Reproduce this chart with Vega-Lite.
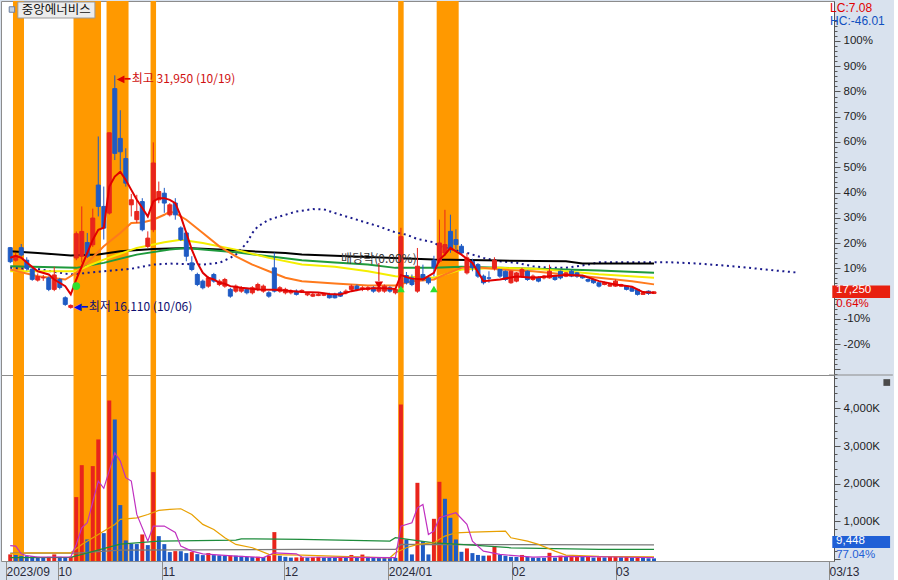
{
"$schema":"https://vega.github.io/schema/vega-lite/v6.json",
"background":"#d9e2ee",
"padding":0,
"spacing":0,
"bounds":"flush",
"config":{"view":{"fill":"#ffffff","stroke":"#8c8c8c","strokeWidth":1},"axis":{"labelFont":"Liberation Sans","labelFontSize":11.5,"labelColor":"#1e1e1e","domainColor":"#555555","tickColor":"#555555","grid":false},"text":{"font":"Liberation Sans"}},
"datasets":{
"info":[{"name":"중앙에너비스","lc":"LC:7.08","hc":"HC:-46.01","chg":"0.64%","vchg":"77.04%","last":17250,"lastvol":9448}],
"bands":[{"s":0.5,"e":2.5},{"s":11.5,"e":16.5},{"s":17.5,"e":21.5},{"s":25.5,"e":26.5},{"s":70.5,"e":71.5},{"s":77.5,"e":81.5}],
"candles":[
{"t":0,"date":"2023-09-15","open":20250,"high":20300,"low":19200,"close":19300,"volume":115000},
{"t":1,"date":"2023-09-18","open":19400,"high":19900,"low":19300,"close":19700,"volume":100000},
{"t":2,"date":"2023-09-19","open":20250,"high":20500,"low":19650,"close":19750,"volume":75000},
{"t":3,"date":"2023-09-20","open":19400,"high":19600,"low":18700,"close":18850,"volume":70000},
{"t":4,"date":"2023-09-21","open":18800,"high":18900,"low":18000,"close":18100,"volume":65000},
{"t":5,"date":"2023-09-22","open":18050,"high":18500,"low":17950,"close":18300,"volume":50000},
{"t":6,"date":"2023-09-25","open":18200,"high":18400,"low":18000,"close":18220,"volume":45000},
{"t":7,"date":"2023-09-26","open":18200,"high":18300,"low":17300,"close":17420,"volume":50000},
{"t":8,"date":"2023-09-27","open":17420,"high":18950,"low":17300,"close":18400,"volume":115000},
{"t":9,"date":"2023-10-04","open":18100,"high":18200,"low":17420,"close":17550,"volume":50000},
{"t":10,"date":"2023-10-05","open":16850,"high":16950,"low":16300,"close":16400,"volume":45000},
{"t":11,"date":"2023-10-06","open":16200,"high":16400,"low":16110,"close":16330,"volume":55000},
{"t":12,"date":"2023-10-10","open":19550,"high":21350,"low":19400,"close":21200,"volume":1640000},
{"t":13,"date":"2023-10-11","open":19670,"high":23050,"low":19240,"close":21350,"volume":2490000},
{"t":14,"date":"2023-10-12","open":20600,"high":21250,"low":19550,"close":19670,"volume":513000},
{"t":15,"date":"2023-10-13","open":20450,"high":22900,"low":20300,"close":22260,"volume":2465000},
{"t":16,"date":"2023-10-16","open":24500,"high":27800,"low":22370,"close":23050,"volume":3175000},
{"t":17,"date":"2023-10-17","open":23050,"high":24400,"low":20800,"close":21580,"volume":681000},
{"t":18,"date":"2023-10-18","open":22600,"high":28050,"low":22500,"close":28050,"volume":4213000},
{"t":19,"date":"2023-10-19","open":31050,"high":31950,"low":26200,"close":26650,"volume":3707000},
{"t":20,"date":"2023-10-20","open":27670,"high":29580,"low":25530,"close":26760,"volume":1427000},
{"t":21,"date":"2023-10-23","open":26300,"high":27000,"low":24400,"close":24630,"volume":487000},
{"t":22,"date":"2023-10-24","open":23160,"high":23900,"low":22370,"close":23500,"volume":397000},
{"t":23,"date":"2023-10-25","open":22150,"high":23840,"low":21920,"close":22710,"volume":390000},
{"t":24,"date":"2023-10-26","open":23380,"high":23610,"low":21360,"close":21470,"volume":646000},
{"t":25,"date":"2023-10-27","open":20340,"high":21360,"low":20230,"close":20900,"volume":362000},
{"t":26,"date":"2023-10-30","open":21470,"high":27400,"low":21300,"close":26000,"volume":2305000},
{"t":27,"date":"2023-10-31","open":23500,"high":24740,"low":23270,"close":24060,"volume":601000},
{"t":28,"date":"2023-11-01","open":23950,"high":24310,"low":22620,"close":23280,"volume":388000},
{"t":29,"date":"2023-11-02","open":22480,"high":23270,"low":22370,"close":23160,"volume":176000},
{"t":30,"date":"2023-11-03","open":23280,"high":23610,"low":22150,"close":22480,"volume":202000},
{"t":31,"date":"2023-11-06","open":21590,"high":21700,"low":20700,"close":20800,"volume":200000},
{"t":32,"date":"2023-11-07","open":21250,"high":21360,"low":19330,"close":19670,"volume":149000},
{"t":33,"date":"2023-11-08","open":19220,"high":19670,"low":18650,"close":18770,"volume":176000},
{"t":34,"date":"2023-11-09","open":18430,"high":18550,"low":17640,"close":17750,"volume":122000},
{"t":35,"date":"2023-11-10","open":17980,"high":18090,"low":17420,"close":17530,"volume":96000},
{"t":36,"date":"2023-11-13","open":17640,"high":18300,"low":17530,"close":18200,"volume":149000},
{"t":37,"date":"2023-11-14","open":18430,"high":18540,"low":17870,"close":17980,"volume":96000},
{"t":38,"date":"2023-11-15","open":17750,"high":18100,"low":17640,"close":17980,"volume":90000},
{"t":39,"date":"2023-11-16","open":17640,"high":18200,"low":17530,"close":18090,"volume":80000},
{"t":40,"date":"2023-11-17","open":17420,"high":17530,"low":16850,"close":16960,"volume":85000},
{"t":41,"date":"2023-11-20","open":17300,"high":17750,"low":17190,"close":17640,"volume":80000},
{"t":42,"date":"2023-11-21","open":17300,"high":17640,"low":17190,"close":17530,"volume":75000},
{"t":43,"date":"2023-11-22","open":17420,"high":17530,"low":17080,"close":17190,"volume":50000},
{"t":44,"date":"2023-11-23","open":17190,"high":17640,"low":17080,"close":17530,"volume":45000},
{"t":45,"date":"2023-11-24","open":17420,"high":17870,"low":17300,"close":17750,"volume":50000},
{"t":46,"date":"2023-11-27","open":17300,"high":17750,"low":17190,"close":17640,"volume":45000},
{"t":47,"date":"2023-11-28","open":17190,"high":17300,"low":16850,"close":16960,"volume":80000},
{"t":48,"date":"2023-11-29","open":18880,"high":19920,"low":17210,"close":17300,"volume":708000},
{"t":49,"date":"2023-11-30","open":17300,"high":17640,"low":17190,"close":17530,"volume":80000},
{"t":50,"date":"2023-12-01","open":17190,"high":17530,"low":17080,"close":17420,"volume":50000},
{"t":51,"date":"2023-12-04","open":17190,"high":17420,"low":17080,"close":17300,"volume":30000},
{"t":52,"date":"2023-12-05","open":17300,"high":17420,"low":17000,"close":17080,"volume":35000},
{"t":53,"date":"2023-12-06","open":17250,"high":17420,"low":17190,"close":17350,"volume":40000},
{"t":54,"date":"2023-12-07","open":17050,"high":17190,"low":16960,"close":17150,"volume":30000},
{"t":55,"date":"2023-12-08","open":16960,"high":17190,"low":16900,"close":17080,"volume":35000},
{"t":56,"date":"2023-12-11","open":17000,"high":17190,"low":16960,"close":17080,"volume":50000},
{"t":57,"date":"2023-12-12","open":17020,"high":17190,"low":16960,"close":17080,"volume":30000},
{"t":58,"date":"2023-12-13","open":17080,"high":17190,"low":16800,"close":16850,"volume":28000},
{"t":59,"date":"2023-12-14","open":17080,"high":17190,"low":16800,"close":16850,"volume":25000},
{"t":60,"date":"2023-12-15","open":17190,"high":17300,"low":16900,"close":16960,"volume":50000},
{"t":61,"date":"2023-12-18","open":17190,"high":17420,"low":17080,"close":17300,"volume":30000},
{"t":62,"date":"2023-12-19","open":17420,"high":17750,"low":17300,"close":17640,"volume":100000},
{"t":63,"date":"2023-12-20","open":17640,"high":17750,"low":17300,"close":17420,"volume":50000},
{"t":64,"date":"2023-12-21","open":17420,"high":17640,"low":17300,"close":17530,"volume":110000},
{"t":65,"date":"2023-12-22","open":17420,"high":17640,"low":17300,"close":17530,"volume":50000},
{"t":66,"date":"2023-12-26","open":17530,"high":17640,"low":17190,"close":17300,"volume":30000},
{"t":67,"date":"2023-12-27","open":17300,"high":17640,"low":17190,"close":17530,"volume":28000},
{"t":68,"date":"2023-12-28","open":17300,"high":17750,"low":17190,"close":17640,"volume":26000},
{"t":69,"date":"2024-01-02","open":17530,"high":17640,"low":17190,"close":17300,"volume":25000},
{"t":70,"date":"2024-01-03","open":17190,"high":17530,"low":17080,"close":17420,"volume":24000},
{"t":71,"date":"2024-01-04","open":17550,"high":21600,"low":17400,"close":21000,"volume":4107000},
{"t":72,"date":"2024-01-05","open":18360,"high":18600,"low":17750,"close":17870,"volume":513000},
{"t":73,"date":"2024-01-08","open":18200,"high":18430,"low":17640,"close":17750,"volume":114000},
{"t":74,"date":"2024-01-09","open":17300,"high":20230,"low":17190,"close":18990,"volume":2020000},
{"t":75,"date":"2024-01-10","open":18430,"high":19100,"low":17980,"close":18090,"volume":468000},
{"t":76,"date":"2024-01-11","open":18200,"high":18300,"low":17750,"close":17870,"volume":114000},
{"t":77,"date":"2024-01-12","open":19400,"high":19700,"low":18300,"close":18900,"volume":1062000},
{"t":78,"date":"2024-01-15","open":19330,"high":22150,"low":19200,"close":20570,"volume":2047000},
{"t":79,"date":"2024-01-16","open":19890,"high":22820,"low":19700,"close":20460,"volume":1595000},
{"t":80,"date":"2024-01-17","open":21360,"high":22490,"low":19900,"close":20120,"volume":1089000},
{"t":81,"date":"2024-01-18","open":20800,"high":21500,"low":20120,"close":20460,"volume":513000},
{"t":82,"date":"2024-01-19","open":20350,"high":20500,"low":19780,"close":19890,"volume":184000},
{"t":83,"date":"2024-01-22","open":18540,"high":19890,"low":18430,"close":19560,"volume":274000},
{"t":84,"date":"2024-01-23","open":19330,"high":19500,"low":18650,"close":18880,"volume":149000},
{"t":85,"date":"2024-01-24","open":19100,"high":19200,"low":18200,"close":18320,"volume":100000},
{"t":86,"date":"2024-01-25","open":18320,"high":18430,"low":17750,"close":17870,"volume":80000},
{"t":87,"date":"2024-01-26","open":18200,"high":18650,"low":17870,"close":18180,"volume":85000},
{"t":88,"date":"2024-01-29","open":18850,"high":19600,"low":18700,"close":19400,"volume":335000},
{"t":89,"date":"2024-01-30","open":18770,"high":18800,"low":18200,"close":18320,"volume":110000},
{"t":90,"date":"2024-01-31","open":18650,"high":18700,"low":18000,"close":18090,"volume":80000},
{"t":91,"date":"2024-02-01","open":17870,"high":18700,"low":17800,"close":18650,"volume":50000},
{"t":92,"date":"2024-02-02","open":17980,"high":18600,"low":17900,"close":18540,"volume":45000},
{"t":93,"date":"2024-02-05","open":18320,"high":18880,"low":18200,"close":18770,"volume":100000},
{"t":94,"date":"2024-02-06","open":18650,"high":18700,"low":18000,"close":18090,"volume":50000},
{"t":95,"date":"2024-02-07","open":18090,"high":18430,"low":18000,"close":18320,"volume":30000},
{"t":96,"date":"2024-02-08","open":18200,"high":18300,"low":17900,"close":17980,"volume":28000},
{"t":97,"date":"2024-02-13","open":18200,"high":18400,"low":18100,"close":18320,"volume":25000},
{"t":98,"date":"2024-02-14","open":18200,"high":19100,"low":18150,"close":18650,"volume":157000},
{"t":99,"date":"2024-02-15","open":18320,"high":18400,"low":18000,"close":18090,"volume":30000},
{"t":100,"date":"2024-02-16","open":18650,"high":18700,"low":18100,"close":18200,"volume":80000},
{"t":101,"date":"2024-02-19","open":18320,"high":18600,"low":18250,"close":18540,"volume":50000},
{"t":102,"date":"2024-02-20","open":18650,"high":18770,"low":18250,"close":18320,"volume":80000},
{"t":103,"date":"2024-02-21","open":18540,"high":18600,"low":18200,"close":18320,"volume":85000},
{"t":104,"date":"2024-02-22","open":18320,"high":18400,"low":18150,"close":18200,"volume":50000},
{"t":105,"date":"2024-02-23","open":18090,"high":18150,"low":17900,"close":17980,"volume":55000},
{"t":106,"date":"2024-02-26","open":18090,"high":18150,"low":17800,"close":17870,"volume":30000},
{"t":107,"date":"2024-02-27","open":17870,"high":17900,"low":17550,"close":17640,"volume":40000},
{"t":108,"date":"2024-02-28","open":17750,"high":17950,"low":17700,"close":17870,"volume":35000},
{"t":109,"date":"2024-02-29","open":17640,"high":17800,"low":17600,"close":17750,"volume":45000},
{"t":110,"date":"2024-03-04","open":17640,"high":18090,"low":17600,"close":17980,"volume":60000},
{"t":111,"date":"2024-03-05","open":17640,"high":17800,"low":17600,"close":17750,"volume":40000},
{"t":112,"date":"2024-03-06","open":17640,"high":17700,"low":17350,"close":17420,"volume":45000},
{"t":113,"date":"2024-03-07","open":17530,"high":17550,"low":17250,"close":17300,"volume":35000},
{"t":114,"date":"2024-03-08","open":17420,"high":17450,"low":17000,"close":17080,"volume":40000},
{"t":115,"date":"2024-03-11","open":17080,"high":17250,"low":17050,"close":17190,"volume":30000},
{"t":116,"date":"2024-03-12","open":17300,"high":17350,"low":17050,"close":17140,"volume":12264},
{"t":117,"date":"2024-03-13","open":17140,"high":17300,"low":17100,"close":17250,"volume":9448}
],
"ma5":[{"t":0,"p":19570},{"t":1,"p":19700},{"t":2,"p":19570},{"t":3,"p":19240},{"t":5,"p":18650},{"t":7,"p":18430},{"t":8,"p":18090},{"t":10,"p":17640},{"t":11,"p":17080},{"t":12,"p":18090},{"t":13,"p":18990},{"t":15,"p":20795},{"t":16,"p":21470},{"t":17,"p":21600},{"t":18,"p":24400},{"t":19,"p":25075},{"t":20,"p":25410},{"t":21,"p":24850},{"t":22,"p":24175},{"t":23,"p":23500},{"t":24,"p":22940},{"t":25,"p":22370},{"t":26,"p":23385},{"t":27,"p":23614},{"t":28,"p":23614},{"t":29,"p":23500},{"t":30,"p":23276},{"t":31,"p":22370},{"t":32,"p":21248},{"t":33,"p":20120},{"t":34,"p":19220},{"t":35,"p":18545},{"t":36,"p":18206},{"t":37,"p":18091},{"t":38,"p":17868},{"t":39,"p":17800},{"t":40,"p":17640},{"t":42,"p":17530},{"t":45,"p":17420},{"t":48,"p":17400},{"t":50,"p":17350},{"t":53,"p":17250},{"t":56,"p":17200},{"t":58,"p":17100},{"t":60,"p":17080},{"t":62,"p":17300},{"t":64,"p":17450},{"t":66,"p":17500},{"t":68,"p":17500},{"t":70,"p":17450},{"t":71,"p":18400},{"t":72,"p":18250},{"t":73,"p":18150},{"t":75,"p":18100},{"t":77,"p":18543},{"t":78,"p":19443},{"t":79,"p":19780},{"t":80,"p":20235},{"t":81,"p":20004},{"t":82,"p":19780},{"t":84,"p":19220},{"t":85,"p":18600},{"t":86,"p":17979},{"t":89,"p":18092},{"t":92,"p":18300},{"t":95,"p":18205},{"t":98,"p":18317},{"t":101,"p":18400},{"t":104,"p":18362},{"t":107,"p":17979},{"t":110,"p":17754},{"t":113,"p":17596},{"t":115,"p":17236},{"t":117,"p":17191}],
"ma20":[{"t":0,"p":18767},{"t":5,"p":18314},{"t":10,"p":18091},{"t":12,"p":18544},{"t":14,"p":19220},{"t":17,"p":20342},{"t":20,"p":21248},{"t":22,"p":21924},{"t":24,"p":21964},{"t":26,"p":22147},{"t":28,"p":22485},{"t":29,"p":22708},{"t":30,"p":22600},{"t":32,"p":22147},{"t":35,"p":21248},{"t":38,"p":20342},{"t":41,"p":19666},{"t":44,"p":19105},{"t":47,"p":18652},{"t":50,"p":18206},{"t":53,"p":17976},{"t":59,"p":17820},{"t":65,"p":17680},{"t":70,"p":17680},{"t":73,"p":17976},{"t":77,"p":18091},{"t":79,"p":18430},{"t":82,"p":18880},{"t":84,"p":18950},{"t":89,"p":18767},{"t":95,"p":18652},{"t":101,"p":18430},{"t":107,"p":18206},{"t":113,"p":17976},{"t":117,"p":17760}],
"ma60":[{"t":0,"p":18652},{"t":12,"p":18652},{"t":14,"p":18990},{"t":17,"p":19443},{"t":23,"p":20234},{"t":28,"p":20612},{"t":31,"p":20795},{"t":35,"p":20571},{"t":41,"p":20119},{"t":47,"p":19558},{"t":53,"p":19104},{"t":59,"p":18950},{"t":65,"p":18652},{"t":70,"p":18314},{"t":77,"p":18206},{"t":82,"p":18767},{"t":89,"p":18880},{"t":95,"p":18820},{"t":101,"p":18652},{"t":107,"p":18450},{"t":117,"p":18206}],
"ma120":[{"t":0,"p":18990},{"t":12,"p":18880},{"t":17,"p":19220},{"t":23,"p":19780},{"t":29,"p":20119},{"t":32,"p":20234},{"t":35,"p":20119},{"t":41,"p":19936},{"t":47,"p":19666},{"t":53,"p":19400},{"t":59,"p":19250},{"t":65,"p":19104},{"t":70,"p":18880},{"t":77,"p":18880},{"t":82,"p":18950},{"t":89,"p":18880},{"t":101,"p":18767},{"t":107,"p":18700},{"t":117,"p":18544}],
"ma240":[{"t":0,"p":20004},{"t":5,"p":19896},{"t":11,"p":19713},{"t":16,"p":19780},{"t":20,"p":20004},{"t":26,"p":20166},{"t":32,"p":20234},{"t":38,"p":20119},{"t":44,"p":20004},{"t":50,"p":19896},{"t":53,"p":19780},{"t":65,"p":19625},{"t":77,"p":19443},{"t":89,"p":19375},{"t":101,"p":19330},{"t":104,"p":19173},{"t":117,"p":19173}],
"span":[{"t":0,"p":18882},{"t":5,"p":18800},{"t":11,"p":18430},{"t":17,"p":18652},{"t":22,"p":18820},{"t":26,"p":19105},{"t":29,"p":19170},{"t":35,"p":19105},{"t":38,"p":19220},{"t":40,"p":19558},{"t":41,"p":19781},{"t":43,"p":20572},{"t":44,"p":21248},{"t":45,"p":21694},{"t":47,"p":22147},{"t":50,"p":22485},{"t":52,"p":22708},{"t":55,"p":22870},{"t":57,"p":22850},{"t":59,"p":22600},{"t":62,"p":22262},{"t":64,"p":22032},{"t":67,"p":21694},{"t":70,"p":21288},{"t":72,"p":21133},{"t":74,"p":20842},{"t":77,"p":20612},{"t":78,"p":20342},{"t":83,"p":19896},{"t":86,"p":19558},{"t":89,"p":19328},{"t":92,"p":19220},{"t":95,"p":18990},{"t":98,"p":18882},{"t":101,"p":18882},{"t":103,"p":18990},{"t":105,"p":19105},{"t":107,"p":19260},{"t":117,"p":19260},{"t":120,"p":19260},{"t":125,"p":19172},{"t":132,"p":18970},{"t":139,"p":18700},{"t":143,"p":18564}],
"vma5":[{"t":0,"v":350000},{"t":1,"v":335000},{"t":2,"v":130000},{"t":3,"v":80000},{"t":5,"v":45000},{"t":11,"v":45000},{"t":12,"v":380000},{"t":13,"v":823000},{"t":14,"v":956000},{"t":16,"v":2068000},{"t":17,"v":1874000},{"t":19,"v":2819000},{"t":20,"v":2600000},{"t":21,"v":2156000},{"t":22,"v":2068000},{"t":23,"v":1179000},{"t":25,"v":468000},{"t":26,"v":868000},{"t":28,"v":868000},{"t":30,"v":700000},{"t":31,"v":335000},{"t":33,"v":202000},{"t":35,"v":130000},{"t":41,"v":69000},{"t":46,"v":30000},{"t":48,"v":157000},{"t":52,"v":130000},{"t":53,"v":45000},{"t":60,"v":35000},{"t":70,"v":30000},{"t":71,"v":868000},{"t":73,"v":956000},{"t":74,"v":1355000},{"t":75,"v":1445000},{"t":76,"v":646000},{"t":77,"v":735000},{"t":78,"v":1089000},{"t":81,"v":1222000},{"t":83,"v":913000},{"t":84,"v":468000},{"t":86,"v":202000},{"t":89,"v":114000},{"t":95,"v":40000},{"t":100,"v":60000},{"t":105,"v":55000},{"t":110,"v":45000},{"t":117,"v":30000}],
"vma20":[{"t":0,"v":130000},{"t":3,"v":157000},{"t":11,"v":157000},{"t":13,"v":380000},{"t":16,"v":646000},{"t":19,"v":913000},{"t":20,"v":1046000},{"t":23,"v":1089000},{"t":25,"v":1178000},{"t":27,"v":1285000},{"t":29,"v":1312000},{"t":31,"v":1330000},{"t":33,"v":1178000},{"t":35,"v":913000},{"t":37,"v":780000},{"t":39,"v":557000},{"t":41,"v":380000},{"t":44,"v":291000},{"t":47,"v":114000},{"t":50,"v":104000},{"t":53,"v":97000},{"t":60,"v":60000},{"t":69,"v":25000},{"t":70,"v":158000},{"t":72,"v":291000},{"t":74,"v":380000},{"t":77,"v":424000},{"t":79,"v":602000},{"t":81,"v":690000},{"t":84,"v":709000},{"t":90,"v":735000},{"t":91,"v":557000},{"t":94,"v":469000},{"t":96,"v":380000},{"t":99,"v":202000},{"t":101,"v":97000},{"t":107,"v":62000},{"t":117,"v":50000}],
"vma60":[{"t":0,"v":30000},{"t":11,"v":35000},{"t":20,"v":390000},{"t":27,"v":470000},{"t":41,"v":495000},{"t":42,"v":530000},{"t":53,"v":515000},{"t":69,"v":470000},{"t":70,"v":560000},{"t":77,"v":424000},{"t":84,"v":362000},{"t":91,"v":291000},{"t":107,"v":247000},{"t":117,"v":247000}],
"vma120":[{"t":0,"v":150000},{"t":12,"v":150000},{"t":20,"v":229000},{"t":53,"v":247000},{"t":70,"v":247000},{"t":71,"v":380000},{"t":117,"v":370000}],
"signals":[{"t":12,"p":17649,"kind":"dot"},{"t":71,"p":17446,"kind":"arrow"},{"t":77,"p":17446,"kind":"arrow"}],
"events":[{"t":67,"label":"배당락(0.00%)"}],
"extremes":[{"t":19,"p":31950,"label":"최고 31,950 (10/19)"},{"t":11,"p":16110,"label":"최저 16,110 (10/06)"}]
},
"vconcat":[
{"width":833,"height":374,
"resolve":{"axis":{"x":"independent","y":"independent"}},
"layer":[
{"data":{"name":"bands"},"mark":{"type":"rect","color":"#ff9900"},"encoding":{"x":{"field":"s","type":"quantitative","scale":{"domain":[-0.77,148.8],"nice":false,"zero":false},"axis":null},"x2":{"field":"e"}}},
{"data":{"name":"span"},"mark":{"type":"line","color":"#1a1a8c","strokeWidth":2,"strokeDash":[2,3.57],"strokeCap":"butt"},"encoding":{"x":{"field":"t","type":"quantitative","scale":{"domain":[-0.77,148.8],"nice":false,"zero":false},"axis":null},"y":{"field":"p","type":"quantitative","scale":{"domain":[11608,36995],"nice":false,"zero":false},"axis":null}}},
{"data":{"name":"ma240"},"mark":{"type":"line","color":"#000000","strokeWidth":2},"encoding":{"x":{"field":"t","type":"quantitative","scale":{"domain":[-0.77,148.8],"nice":false,"zero":false},"axis":null},"y":{"field":"p","type":"quantitative","scale":{"domain":[11608,36995],"nice":false,"zero":false},"axis":null}}},
{"data":{"name":"ma120"},"mark":{"type":"line","color":"#1e9a3c","strokeWidth":2},"encoding":{"x":{"field":"t","type":"quantitative","scale":{"domain":[-0.77,148.8],"nice":false,"zero":false},"axis":null},"y":{"field":"p","type":"quantitative","scale":{"domain":[11608,36995],"nice":false,"zero":false},"axis":null}}},
{"data":{"name":"ma60"},"mark":{"type":"line","color":"#f4ee00","strokeWidth":2},"encoding":{"x":{"field":"t","type":"quantitative","scale":{"domain":[-0.77,148.8],"nice":false,"zero":false},"axis":null},"y":{"field":"p","type":"quantitative","scale":{"domain":[11608,36995],"nice":false,"zero":false},"axis":null}}},
{"data":{"name":"ma20"},"mark":{"type":"line","color":"#ff7a1c","strokeWidth":2},"encoding":{"x":{"field":"t","type":"quantitative","scale":{"domain":[-0.77,148.8],"nice":false,"zero":false},"axis":null},"y":{"field":"p","type":"quantitative","scale":{"domain":[11608,36995],"nice":false,"zero":false},"axis":null}}},
{"data":{"name":"candles"},"mark":{"type":"rule","strokeWidth":1},"encoding":{"x":{"field":"t","type":"quantitative","scale":{"domain":[-0.77,148.8],"nice":false,"zero":false},"axis":null},"y":{"field":"low","type":"quantitative","scale":{"domain":[11608,36995],"nice":false,"zero":false},"axis":null},"y2":{"field":"high"},"color":{"condition":{"test":"datum.close >= datum.open","value":"#e8241c"},"value":"#1f5bc4"}}},
{"data":{"name":"candles"},"mark":{"type":"bar","size":4,"strokeWidth":1},"encoding":{"x":{"field":"t","type":"quantitative","scale":{"domain":[-0.77,148.8],"nice":false,"zero":false},"axis":null},"y":{"field":"open","type":"quantitative","scale":{"domain":[11608,36995],"nice":false,"zero":false},"axis":{"orient":"right","title":null,"values":[11655.2,11998,12340.8,12683.6,13026.4,13369.2,13712,14054.8,14397.6,14740.4,15083.2,15426,15768.8,16111.6,16454.4,16797.2,17140,17482.8,17825.6,18168.4,18511.2,18854,19196.8,19539.6,19882.4,20225.2,20568,20910.8,21253.6,21596.4,21939.2,22282,22624.8,22967.6,23310.4,23653.2,23996,24338.8,24681.6,25024.4,25367.2,25710,26052.8,26395.6,26738.4,27081.2,27424,27766.8,28109.6,28452.4,28795.2,29138,29480.8,29823.6,30166.4,30509.2,30852,31194.8,31537.6,31880.4,32223.2,32566,32908.8,33251.6,33594.4,33937.2,34280,34622.8,34965.6,35308.4,35651.2],"labelExpr":"(round((datum.value/17140-1)*100) % 10 == 0 && round((datum.value/17140-1)*100) != 0 && round((datum.value/17140-1)*100) > -25) ? round((datum.value/17140-1)*100) + '%' : ''","tickSize":{"condition":{"test":"round((datum.value/17140-1)*100) % 10 == 0","value":6},"value":3},"labelPadding":3,"labelOverlap":false,"labelBound":false,"labelFlush":false,"grid":false}},"y2":{"field":"close"},"color":{"condition":{"test":"datum.close >= datum.open","value":"#e8241c"},"value":"#1f5bc4"},"stroke":{"condition":{"test":"datum.close >= datum.open","value":"#e8241c"},"value":"#1f5bc4"}}},
{"data":{"name":"ma5"},"mark":{"type":"line","color":"#e00000","strokeWidth":2},"encoding":{"x":{"field":"t","type":"quantitative","scale":{"domain":[-0.77,148.8],"nice":false,"zero":false},"axis":null},"y":{"field":"p","type":"quantitative","scale":{"domain":[11608,36995],"nice":false,"zero":false},"axis":null}}},
{"data":{"name":"signals"},"mark":{"type":"point","filled":true,"color":"#2ee02e","opacity":1,"size":60},"encoding":{"x":{"field":"t","type":"quantitative","scale":{"domain":[-0.77,148.8],"nice":false,"zero":false},"axis":null},"y":{"field":"p","type":"quantitative","scale":{"domain":[11608,36995],"nice":false,"zero":false},"axis":null},"shape":{"field":"kind","type":"nominal","scale":{"domain":["dot","arrow"],"range":["circle","triangle-up"]},"legend":null}}},
{"data":{"name":"events"},"mark":{"type":"rule","color":"#e00000","strokeWidth":1},"encoding":{"x":{"field":"t","type":"quantitative","scale":{"domain":[-0.77,148.8],"nice":false,"zero":false},"axis":null},"y":{"datum":19211,"type":"quantitative","scale":{"domain":[11608,36995],"nice":false,"zero":false},"axis":null},"y2":{"datum":17989}}},
{"data":{"name":"events"},"mark":{"type":"point","shape":"triangle-down","filled":true,"color":"#e00000","opacity":1,"size":70},"encoding":{"x":{"field":"t","type":"quantitative","scale":{"domain":[-0.77,148.8],"nice":false,"zero":false},"axis":null},"y":{"datum":17717,"type":"quantitative","scale":{"domain":[11608,36995],"nice":false,"zero":false},"axis":null}}},
{"data":{"name":"events"},"mark":{"type":"text","font":"Noto Sans CJK KR","fontSize":12,"color":"#3a3a3a","align":"center","baseline":"middle"},"encoding":{"x":{"field":"t","type":"quantitative","scale":{"domain":[-0.77,148.8],"nice":false,"zero":false},"axis":null},"y":{"datum":19482,"type":"quantitative","scale":{"domain":[11608,36995],"nice":false,"zero":false},"axis":null},"text":{"field":"label"}}},
{"data":{"name":"extremes"},"transform":[{"filter":"datum.t == 19"}],"mark":{"type":"text","font":"DejaVu Sans","fontSize":10,"color":"#e00000","align":"left","baseline":"middle","dx":2,"dy":4},"encoding":{"x":{"field":"t","type":"quantitative","scale":{"domain":[-0.77,148.8],"nice":false,"zero":false},"axis":null},"y":{"field":"p","type":"quantitative","scale":{"domain":[11608,36995],"nice":false,"zero":false},"axis":null},"text":{"value":"◀━"}}},
{"data":{"name":"extremes"},"transform":[{"filter":"datum.t == 19"}],"mark":{"type":"text","font":"Noto Sans CJK KR","fontSize":12,"color":"#d01010","align":"left","baseline":"middle","dx":17,"dy":4},"encoding":{"x":{"field":"t","type":"quantitative","scale":{"domain":[-0.77,148.8],"nice":false,"zero":false},"axis":null},"y":{"field":"p","type":"quantitative","scale":{"domain":[11608,36995],"nice":false,"zero":false},"axis":null},"text":{"field":"label"}}},
{"data":{"name":"extremes"},"transform":[{"filter":"datum.t == 11"}],"mark":{"type":"text","font":"DejaVu Sans","fontSize":10,"color":"#0010e0","align":"left","baseline":"middle","dx":3,"dy":-2},"encoding":{"x":{"field":"t","type":"quantitative","scale":{"domain":[-0.77,148.8],"nice":false,"zero":false},"axis":null},"y":{"field":"p","type":"quantitative","scale":{"domain":[11608,36995],"nice":false,"zero":false},"axis":null},"text":{"value":"◀━"}}},
{"data":{"name":"extremes"},"transform":[{"filter":"datum.t == 11"}],"mark":{"type":"text","font":"Noto Sans CJK KR","fontSize":12,"color":"#101070","align":"left","baseline":"middle","dx":18,"dy":-2},"encoding":{"x":{"field":"t","type":"quantitative","scale":{"domain":[-0.77,148.8],"nice":false,"zero":false},"axis":null},"y":{"field":"p","type":"quantitative","scale":{"domain":[11608,36995],"nice":false,"zero":false},"axis":null},"text":{"field":"label"}}},
{"data":{"name":"info"},"mark":{"type":"rect","fill":"#ececec","stroke":"#9a9a9a","strokeWidth":1},"encoding":{"x":{"datum":1.38,"type":"quantitative","scale":{"domain":[-0.77,148.8],"nice":false,"zero":false},"axis":null},"x2":{"datum":15.39},"y":{"datum":36927,"type":"quantitative","scale":{"domain":[11608,36995],"nice":false,"zero":false},"axis":null},"y2":{"datum":35841}}},
{"data":{"name":"info"},"mark":{"type":"text","font":"Noto Sans CJK KR","fontSize":12.5,"color":"#111111","align":"center","baseline":"middle"},"encoding":{"x":{"datum":8.38,"type":"quantitative","scale":{"domain":[-0.77,148.8],"nice":false,"zero":false},"axis":null},"y":{"datum":36384,"type":"quantitative","scale":{"domain":[11608,36995],"nice":false,"zero":false},"axis":null},"text":{"field":"name"}}},
{"data":{"name":"info"},"mark":{"type":"point","shape":"square","filled":true,"color":"#c8d2e0","stroke":"#6a7ea0","strokeWidth":1,"opacity":1,"size":30},"encoding":{"x":{"datum":0.31,"type":"quantitative","scale":{"domain":[-0.77,148.8],"nice":false,"zero":false},"axis":null},"y":{"datum":36418,"type":"quantitative","scale":{"domain":[11608,36995],"nice":false,"zero":false},"axis":null}}},
{"data":{"name":"info"},"mark":{"type":"text","fontSize":12,"color":"#e00000","align":"left","baseline":"middle"},"encoding":{"x":{"datum":149.0,"type":"quantitative","scale":{"domain":[-0.77,148.8],"nice":false,"zero":false},"axis":null},"y":{"datum":36520,"type":"quantitative","scale":{"domain":[11608,36995],"nice":false,"zero":false},"axis":null},"text":{"field":"lc"}}},
{"data":{"name":"info"},"mark":{"type":"text","fontSize":12,"color":"#1050c0","align":"left","baseline":"middle"},"encoding":{"x":{"datum":149.0,"type":"quantitative","scale":{"domain":[-0.77,148.8],"nice":false,"zero":false},"axis":null},"y":{"datum":35650,"type":"quantitative","scale":{"domain":[11608,36995],"nice":false,"zero":false},"axis":null},"text":{"field":"hc"}}},
{"data":{"name":"info"},"mark":{"type":"rect","fill":"#e8200f"},"encoding":{"x":{"datum":149.4,"type":"quantitative","scale":{"domain":[-0.77,148.8],"nice":false,"zero":false},"axis":null},"x2":{"datum":159.9},"y":{"datum":17690,"type":"quantitative","scale":{"domain":[11608,36995],"nice":false,"zero":false},"axis":null},"y2":{"datum":16843}}},
{"data":{"name":"info"},"mark":{"type":"text","fontSize":11.5,"color":"#ffffff","align":"left","baseline":"middle","dx":1,"dy":-1.5},"encoding":{"x":{"datum":149.9,"type":"quantitative","scale":{"domain":[-0.77,148.8],"nice":false,"zero":false},"axis":null},"y":{"field":"last","type":"quantitative","scale":{"domain":[11608,36995],"nice":false,"zero":false},"axis":null},"text":{"field":"last","format":","}}},
{"data":{"name":"info"},"mark":{"type":"text","fontSize":11.5,"color":"#e00000","align":"left","baseline":"middle","dy":12.5},"encoding":{"x":{"datum":150.1,"type":"quantitative","scale":{"domain":[-0.77,148.8],"nice":false,"zero":false},"axis":null},"y":{"field":"last","type":"quantitative","scale":{"domain":[11608,36995],"nice":false,"zero":false},"axis":null},"text":{"field":"chg"}}},
{"data":{"name":"info"},"mark":{"type":"rule","color":"#8c8c8c","strokeWidth":1},"encoding":{"x":{"datum":148.8,"type":"quantitative","scale":{"domain":[-0.77,148.8],"nice":false,"zero":false},"axis":null},"x2":{"datum":160.4},"y":{"datum":11608,"type":"quantitative","scale":{"domain":[11608,36995],"nice":false,"zero":false},"axis":null}}}
]},
{"width":833,"height":186,
"resolve":{"axis":{"x":"independent","y":"independent"}},
"layer":[
{"data":{"name":"bands"},"mark":{"type":"rect","color":"#ff9900"},"encoding":{"x":{"field":"s","type":"quantitative","scale":{"domain":[-0.77,148.8],"nice":false,"zero":false},"axis":null},"x2":{"field":"e"}}},
{"data":{"name":"candles"},"transform":[{"window":[{"op":"lag","field":"volume","as":"pv"}],"sort":[{"field":"t"}]}],"mark":{"type":"bar","size":4},"encoding":{"x":{"field":"t","type":"quantitative","scale":{"domain":[-0.77,148.8],"nice":false,"zero":false},"axis":{"orient":"bottom","title":null,"values":[-0.77,8.7,27.6,49.8,68.7,91.1,110,148.8],"labelExpr":"datum.value < 0 ? '2023/09' : datum.value < 9 ? '10' : datum.value < 28 ? '11' : datum.value < 50 ? '12' : datum.value < 69 ? '2024/01' : datum.value < 92 ? '02' : datum.value < 111 ? '03' : '03/13'","tickSize":20,"tickColor":"#8c8c8c","domain":false,"labelAlign":"left","labelBaseline":"middle","labelPadding":-10,"labelDx":3,"labelOverlap":false,"labelBound":false,"labelFlush":false,"labelFontSize":12,"labelColor":"#2a2a3a","grid":false}},"y":{"field":"volume","type":"quantitative","scale":{"domain":[-61000,4890000],"nice":false,"zero":false},"axis":{"orient":"right","title":null,"values":[0,200000,400000,600000,800000,1000000,1200000,1400000,1600000,1800000,2000000,2200000,2400000,2600000,2800000,3000000,3200000,3400000,3600000,3800000,4000000,4200000,4400000,4600000,4800000],"labelExpr":"(datum.value % 1000000 == 0 && datum.value > 0) ? format(datum.value/1000, ',') + 'K' : ''","tickSize":{"condition":{"test":"datum.value % 1000000 == 0","value":6},"value":3},"labelPadding":3,"labelOverlap":false,"labelBound":false,"labelFlush":false,"grid":false}},"y2":{"datum":-61000},"color":{"condition":{"test":"datum.pv == null || datum.volume > datum.pv","value":"#e8241c"},"value":"#1f5bc4"}}},
{"data":{"name":"vma120"},"mark":{"type":"line","color":"#7a7a7a","strokeWidth":1.2},"encoding":{"x":{"field":"t","type":"quantitative","scale":{"domain":[-0.77,148.8],"nice":false,"zero":false},"axis":null},"y":{"field":"v","type":"quantitative","scale":{"domain":[-61000,4890000],"nice":false,"zero":false},"axis":null}}},
{"data":{"name":"vma60"},"mark":{"type":"line","color":"#1e8c3c","strokeWidth":1.2},"encoding":{"x":{"field":"t","type":"quantitative","scale":{"domain":[-0.77,148.8],"nice":false,"zero":false},"axis":null},"y":{"field":"v","type":"quantitative","scale":{"domain":[-61000,4890000],"nice":false,"zero":false},"axis":null}}},
{"data":{"name":"vma20"},"mark":{"type":"line","color":"#e8a000","strokeWidth":1.2},"encoding":{"x":{"field":"t","type":"quantitative","scale":{"domain":[-0.77,148.8],"nice":false,"zero":false},"axis":null},"y":{"field":"v","type":"quantitative","scale":{"domain":[-61000,4890000],"nice":false,"zero":false},"axis":null}}},
{"data":{"name":"vma5"},"mark":{"type":"line","color":"#c030c0","strokeWidth":1.2},"encoding":{"x":{"field":"t","type":"quantitative","scale":{"domain":[-0.77,148.8],"nice":false,"zero":false},"axis":null},"y":{"field":"v","type":"quantitative","scale":{"domain":[-61000,4890000],"nice":false,"zero":false},"axis":null}}},
{"data":{"name":"info"},"mark":{"type":"rect","fill":"#1f5fd6"},"encoding":{"x":{"datum":149.4,"type":"quantitative","scale":{"domain":[-0.77,148.8],"nice":false,"zero":false},"axis":null},"x2":{"datum":159.9},"y":{"datum":604500,"type":"quantitative","scale":{"domain":[-61000,4890000],"nice":false,"zero":false},"axis":null},"y2":{"datum":284500}}},
{"data":{"name":"info"},"mark":{"type":"text","fontSize":11.5,"color":"#ffffff","align":"left","baseline":"middle","dx":1,"dy":-1},"encoding":{"x":{"datum":149.9,"type":"quantitative","scale":{"domain":[-0.77,148.8],"nice":false,"zero":false},"axis":null},"y":{"datum":444500,"type":"quantitative","scale":{"domain":[-61000,4890000],"nice":false,"zero":false},"axis":null},"text":{"field":"lastvol","format":","}}},
{"data":{"name":"info"},"mark":{"type":"text","fontSize":11.5,"color":"#1f5fd6","align":"left","baseline":"middle"},"encoding":{"x":{"datum":150.1,"type":"quantitative","scale":{"domain":[-0.77,148.8],"nice":false,"zero":false},"axis":null},"y":{"datum":100000,"type":"quantitative","scale":{"domain":[-61000,4890000],"nice":false,"zero":false},"axis":null},"text":{"field":"vchg"}}},
{"data":{"name":"info"},"mark":{"type":"point","shape":"square","filled":true,"color":"#4a4a4a","opacity":1,"size":45},"encoding":{"x":{"datum":159.3,"type":"quantitative","scale":{"domain":[-0.77,148.8],"nice":false,"zero":false},"axis":null},"y":{"datum":4690000,"type":"quantitative","scale":{"domain":[-61000,4890000],"nice":false,"zero":false},"axis":null}}},
{"data":{"name":"info"},"mark":{"type":"rect","opacity":0},"encoding":{"x":{"datum":159.9,"type":"quantitative","scale":{"domain":[-0.77,148.8],"nice":false,"zero":false},"axis":null},"x2":{"datum":160.4},"y":{"datum":4000000,"type":"quantitative","scale":{"domain":[-61000,4890000],"nice":false,"zero":false},"axis":null},"y2":{"datum":3900000}}}
]}
]
}
